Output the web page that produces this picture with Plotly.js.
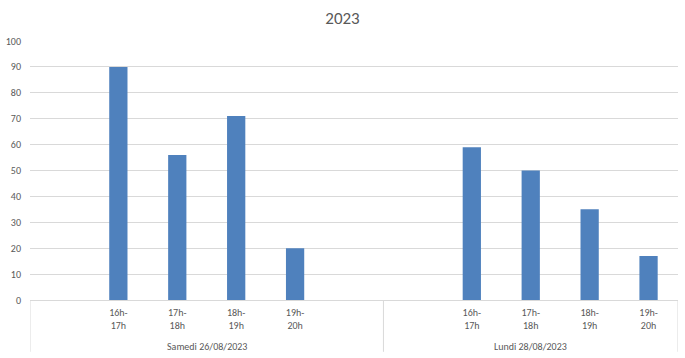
<!DOCTYPE html>
<html>
<head>
<meta charset="utf-8">
<script src="https://cdn.plot.ly/plotly-3.0.1.min.js"></script>
<style>html,body{margin:0;padding:0;background:#fff;}#chart{width:685px;height:358px;}</style>
</head>
<body>
<div id="chart"></div>
<script>
const title = "2023";
const groups = ["Samedi 26/08/2023", "Lundi 28/08/2023"];
const slots = ["16h-17h", "17h-18h", "18h-19h", "19h-20h"];
const samedi = [90, 56, 71, 20];
const lundi = [59, 50, 35, 17];
const yTicks = [0, 10, 20, 30, 40, 50, 60, 70, 80, 90, 100];

// category keys: empty slot, 4 slots, empty slot (group 1); empty slot, 4 slots (group 2)
const keys = [], labels = [], vals = [];
function addGroup(g, values, trailingEmpty) {
  keys.push(g + "|pre"); labels.push(""); vals.push(null);
  slots.forEach((s, i) => {
    keys.push(g + "|" + s);
    labels.push(s.replace("-", "-<br>"));
    vals.push(values[i]);
  });
  if (trailingEmpty) { keys.push(g + "|post"); labels.push(""); vals.push(null); }
}
addGroup(groups[0], samedi, true);
addGroup(groups[1], lundi, false);

const n = keys.length;
const split = 5.5; // boundary between groups (after 6 categories)
const font = "Calibri, Carlito, 'Liberation Sans Narrow', 'Liberation Sans', sans-serif";

const trace = {
  type: "bar",
  x: keys,
  y: vals,
  width: 0.31,
  marker: {color: "#4f81bd"},
  hoverinfo: "y"
};

const lineStyle = {color: "#d9d9d9", width: 1};
const layout = {
  width: 685, height: 358,
  margin: {l: 30, r: 7, t: 41, b: 58},
  paper_bgcolor: "#fff", plot_bgcolor: "#fff",
  showlegend: false,
  title: {text: title, font: {family: font, size: 17, color: "#595959"}, x: 0.5, xanchor: "center", y: 0.95, yanchor: "middle"},
  xaxis: {
    type: "category",
    categoryorder: "array", categoryarray: keys,
    tickvals: keys, ticktext: labels,
    range: [-0.5, n - 0.5],
    showgrid: false, zeroline: false,
    showline: true, linecolor: "#d9d9d9", linewidth: 1,
    ticks: "", ticklabelstandoff: 3,
    tickfont: {family: font, size: 10, color: "#595959"},
    fixedrange: true
  },
  yaxis: {
    range: [0, 100], tickvals: yTicks,
    showgrid: true, gridcolor: "#d9d9d9", gridwidth: 1,
    zeroline: false, showline: false, ticks: "",
    ticklabelstandoff: 8,
    tickfont: {family: font, size: 10, color: "#595959"},
    fixedrange: true
  },
  shapes: [-0.5, split, n - 0.5].map(xv => ({
    type: "line", xref: "x", yref: "paper",
    x0: xv, x1: xv, y0: 0, y1: -0.2,
    line: lineStyle
  })),
  annotations: [
    {text: groups[0], x: (-0.5 + split) / 2, xref: "x", y: -0.178, yref: "paper", showarrow: false, yanchor: "middle", font: {family: font, size: 10, color: "#595959"}},
    {text: groups[1], x: (split + n - 0.5) / 2, xref: "x", y: -0.178, yref: "paper", showarrow: false, yanchor: "middle", font: {family: font, size: 10, color: "#595959"}}
  ]
};

Plotly.newPlot("chart", [trace], layout, {displayModeBar: false, staticPlot: true});
</script>
</body>
</html>
